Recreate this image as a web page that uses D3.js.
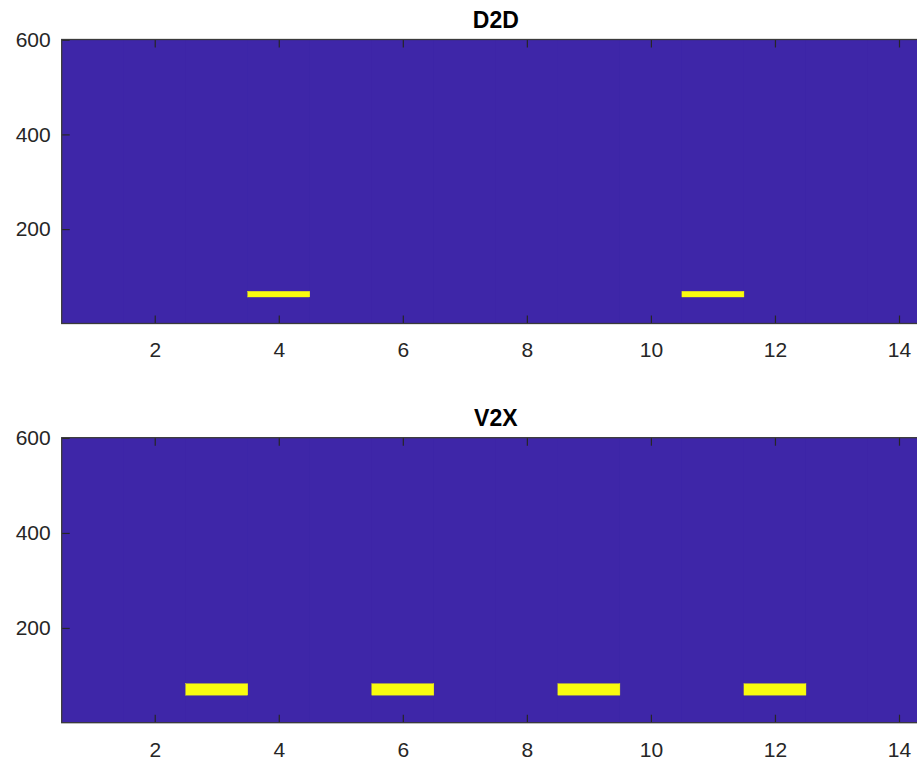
<!DOCTYPE html>
<html>
<head>
<meta charset="utf-8">
<script src="https://cdn.jsdelivr.net/npm/d3@7"></script>
<style>
  html, body { margin: 0; padding: 0; background: #ffffff; overflow: hidden; }
  svg { display: block; }
  text { font-family: "Liberation Sans", Arial, Helvetica, sans-serif; fill: #262626; }
</style>
</head>
<body>
<svg id="chart" width="917" height="763"></svg>
<script>
// ---- data ----
const panelTitles = ["D2D", "V2X"];
const columns = d3.range(1, 15);           // 14 image columns
const rowCount = 600;                      // image rows
const d2dActiveColumns = [4, 11];
const d2dActiveRows = [57, 68];            // first / last active row
const v2xActiveColumns = [3, 6, 9, 12];
const v2xActiveRows = [59, 82];
const xTickValues = [2, 4, 6, 8, 10, 12, 14];
const yTickValues = [200, 400, 600];
const colorLow = "#3E26A8";   // parula 0
const colorHigh = "#F9FB0E";  // parula 1

// build segments per column: value 0 / 1 runs
function buildSegments(activeCols, activeRows) {
  const segs = [];
  columns.forEach(c => {
    if (activeCols.includes(c)) {
      segs.push({ col: c, r0: 1, r1: activeRows[0] - 1, v: 0 });
      segs.push({ col: c, r0: activeRows[0], r1: activeRows[1], v: 1 });
      segs.push({ col: c, r0: activeRows[1] + 1, r1: rowCount, v: 0 });
    } else {
      segs.push({ col: c, r0: 1, r1: rowCount, v: 0 });
    }
  });
  return segs.sort((a, b) => a.v - b.v);
}

const panels = [
  { title: panelTitles[0], segs: buildSegments(d2dActiveColumns, d2dActiveRows), top: 39.5, bottom: 323.5 },
  { title: panelTitles[1], segs: buildSegments(v2xActiveColumns, v2xActiveRows), top: 437.7, bottom: 722.7 }
];

const svg = d3.select("#chart");
const left = 61.7, right = 930;
const color = d3.scaleLinear().domain([0, 1]).range([colorLow, colorHigh]);
const x = d3.scaleLinear().domain([0.5, columns.length + 0.5]).range([left, right]);
const tickLen = 8;

panels.forEach(p => {
  const y = d3.scaleLinear().domain([0.5, rowCount + 0.5]).range([p.bottom, p.top]);
  const g = svg.append("g");

  // backdrop in the zero colour so column seams disappear
  g.append("rect")
    .attr("x", x(0.5)).attr("y", y(rowCount + 0.5))
    .attr("width", x(columns.length + 0.5) - x(0.5))
    .attr("height", y(0.5) - y(rowCount + 0.5))
    .attr("fill", color(0));

  g.selectAll("rect.cell")
    .data(p.segs)
    .join("rect")
    .attr("class", "cell")
    .attr("x", d => x(d.col - 0.5))
    .attr("width", d => x(d.col + 0.5) - x(d.col - 0.5))
    .attr("y", d => y(d.r1 + 0.5))
    .attr("height", d => y(d.r0 - 0.5) - y(d.r1 + 0.5))
    .attr("fill", d => color(d.v))
    .attr("stroke", d => d.v > 0 ? color(d.v) : "none")
    .attr("stroke-width", 0.4);

  const xa = g.append("g")
    .attr("transform", `translate(0,${p.bottom})`)
    .call(d3.axisBottom(x).tickValues(xTickValues).tickSizeInner(-tickLen).tickSizeOuter(0).tickPadding(19));
  const xt = g.append("g")
    .attr("transform", `translate(0,${p.top})`)
    .call(d3.axisTop(x).tickValues(xTickValues).tickSizeInner(-tickLen).tickSizeOuter(0).tickFormat(""));
  const ya = g.append("g")
    .attr("transform", `translate(${left},0)`)
    .call(d3.axisLeft(y).tickValues(yTickValues).tickSizeInner(-tickLen).tickSizeOuter(0).tickPadding(11));
  const yr = g.append("g")
    .attr("transform", `translate(${right},0)`)
    .call(d3.axisRight(y).tickValues(yTickValues).tickSizeInner(-tickLen).tickSizeOuter(0).tickFormat(""));

  [xa, xt, ya, yr].forEach(a => {
    a.select(".domain").remove();
    a.selectAll("line").attr("stroke", "#262626").attr("stroke-width", 1.2);
    a.selectAll("text").attr("font-size", 21).attr("fill", "#333333")
      .style("font-family", "'Liberation Sans', Arial, Helvetica, sans-serif");
  });

  g.append("rect")
    .attr("x", left).attr("y", p.top)
    .attr("width", right - left).attr("height", p.bottom - p.top)
    .attr("fill", "none").attr("stroke", "#3a3a3a").attr("stroke-width", 1.3);

  g.append("text")
    .attr("x", (left + right) / 2)
    .attr("y", p.top - 12)
    .attr("text-anchor", "middle")
    .attr("font-size", 23)
    .attr("font-weight", "bold")
    .style("fill", "#000")
    .text(p.title);
});
</script>
</body>
</html>
